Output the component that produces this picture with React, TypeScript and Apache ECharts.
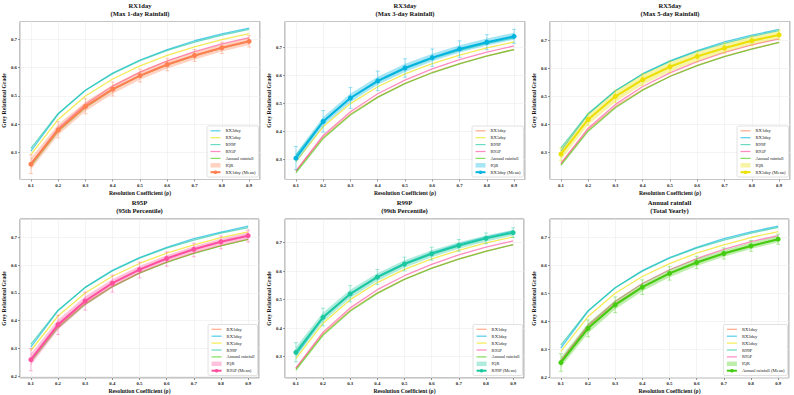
import React, { useEffect, useRef } from "react";
import * as echarts from "echarts";

// ---------------- data ----------------
const X = [0.1, 0.2, 0.3, 0.4, 0.5, 0.6, 0.7, 0.8, 0.9];

const RX1DAY_MEAN = [0.259, 0.380, 0.463, 0.524, 0.572, 0.611, 0.643, 0.670, 0.693];
const RX1DAY_Q1 = [0.240, 0.362, 0.446, 0.508, 0.557, 0.597, 0.629, 0.657, 0.680];
const RX1DAY_Q3 = [0.281, 0.399, 0.480, 0.540, 0.587, 0.625, 0.656, 0.683, 0.706];
const RX1DAY_LO = [0.226, 0.352, 0.437, 0.500, 0.549, 0.589, 0.622, 0.650, 0.673];
const RX1DAY_HI = [0.292, 0.409, 0.490, 0.549, 0.595, 0.633, 0.664, 0.690, 0.713];

const RX3DAY_MEAN = [0.305, 0.436, 0.520, 0.581, 0.627, 0.664, 0.695, 0.719, 0.740];
const RX3DAY_Q1 = [0.289, 0.421, 0.505, 0.567, 0.613, 0.651, 0.682, 0.707, 0.728];
const RX3DAY_Q3 = [0.322, 0.452, 0.536, 0.596, 0.642, 0.678, 0.708, 0.732, 0.753];
const RX3DAY_LO = [0.265, 0.398, 0.483, 0.546, 0.594, 0.633, 0.665, 0.692, 0.715];
const RX3DAY_HI = [0.347, 0.475, 0.557, 0.616, 0.660, 0.695, 0.724, 0.746, 0.765];

const RX5DAY_MEAN = [0.293, 0.417, 0.500, 0.560, 0.606, 0.643, 0.673, 0.699, 0.720];
const RX5DAY_Q1 = [0.272, 0.398, 0.480, 0.541, 0.588, 0.626, 0.657, 0.684, 0.706];
const RX5DAY_Q3 = [0.313, 0.436, 0.519, 0.578, 0.623, 0.659, 0.688, 0.713, 0.734];
const RX5DAY_LO = [0.270, 0.395, 0.478, 0.539, 0.585, 0.623, 0.654, 0.681, 0.703];
const RX5DAY_HI = [0.316, 0.439, 0.522, 0.581, 0.626, 0.662, 0.691, 0.716, 0.737];

const R95P_MEAN = [0.260, 0.386, 0.471, 0.535, 0.584, 0.624, 0.657, 0.684, 0.706];
const R95P_Q1 = [0.240, 0.368, 0.455, 0.519, 0.569, 0.610, 0.643, 0.671, 0.694];
const R95P_Q3 = [0.281, 0.404, 0.487, 0.549, 0.597, 0.636, 0.668, 0.695, 0.717];
const R95P_LO = [0.220, 0.350, 0.438, 0.503, 0.554, 0.596, 0.630, 0.659, 0.683];
const R95P_HI = [0.300, 0.420, 0.503, 0.564, 0.611, 0.648, 0.679, 0.705, 0.726];

const R99P_MEAN = [0.315, 0.438, 0.520, 0.579, 0.625, 0.661, 0.690, 0.715, 0.735];
const R99P_Q1 = [0.298, 0.422, 0.505, 0.565, 0.612, 0.649, 0.679, 0.704, 0.725];
const R99P_Q3 = [0.333, 0.455, 0.535, 0.593, 0.638, 0.673, 0.701, 0.725, 0.745];
const R99P_LO = [0.282, 0.408, 0.492, 0.553, 0.601, 0.639, 0.670, 0.696, 0.718];
const R99P_HI = [0.349, 0.470, 0.549, 0.606, 0.649, 0.684, 0.711, 0.734, 0.752];

const ANNUAL_MEAN = [0.253, 0.375, 0.459, 0.522, 0.571, 0.610, 0.642, 0.669, 0.693];
const ANNUAL_Q1 = [0.236, 0.358, 0.443, 0.507, 0.557, 0.597, 0.630, 0.658, 0.682];
const ANNUAL_Q3 = [0.272, 0.393, 0.475, 0.537, 0.585, 0.623, 0.654, 0.681, 0.704];
const ANNUAL_LO = [0.222, 0.345, 0.431, 0.496, 0.547, 0.588, 0.622, 0.650, 0.675];
const ANNUAL_HI = [0.285, 0.405, 0.487, 0.548, 0.595, 0.632, 0.662, 0.688, 0.711];

const INDICES = ["RX1day", "RX3day", "RX5day", "R95P", "R99P", "Annual rainfall"];
const SUBTITLES = [
  "(Max 1-day Rainfall)",
  "(Max 3-day Rainfall)",
  "(Max 5-day Rainfall)",
  "(95th Percentile)",
  "(99th Percentile)",
  "(Total Yearly)",
];
const OTHERS_ORDER = [
  ["RX3day", "RX5day", "R99P", "R95P", "Annual rainfall"],
  ["RX1day", "RX5day", "R99P", "R95P", "Annual rainfall"],
  ["RX1day", "RX3day", "R99P", "R95P", "Annual rainfall"],
  ["RX1day", "RX3day", "RX5day", "R99P", "Annual rainfall"],
  ["RX1day", "RX3day", "RX5day", "R95P", "Annual rainfall"],
  ["RX1day", "RX3day", "RX5day", "R99P", "R95P"],
];
const Y_MIN = [0.205, 0.229, 0.202, 0.194, 0.225, 0.198];
const Y_MAX = [0.763, 0.793, 0.768, 0.766, 0.783, 0.765];

const STATS: Record<string, { mean: number[]; q1: number[]; q3: number[]; lo: number[]; hi: number[] }> = {
  RX1day: { mean: RX1DAY_MEAN, q1: RX1DAY_Q1, q3: RX1DAY_Q3, lo: RX1DAY_LO, hi: RX1DAY_HI },
  RX3day: { mean: RX3DAY_MEAN, q1: RX3DAY_Q1, q3: RX3DAY_Q3, lo: RX3DAY_LO, hi: RX3DAY_HI },
  RX5day: { mean: RX5DAY_MEAN, q1: RX5DAY_Q1, q3: RX5DAY_Q3, lo: RX5DAY_LO, hi: RX5DAY_HI },
  R95P: { mean: R95P_MEAN, q1: R95P_Q1, q3: R95P_Q3, lo: R95P_LO, hi: R95P_HI },
  R99P: { mean: R99P_MEAN, q1: R99P_Q1, q3: R99P_Q3, lo: R99P_LO, hi: R99P_HI },
  "Annual rainfall": { mean: ANNUAL_MEAN, q1: ANNUAL_Q1, q3: ANNUAL_Q3, lo: ANNUAL_LO, hi: ANNUAL_HI },
};

// ---------------- styles ----------------
const COLORS: Record<string, string> = {
  RX1day: "#FF7F50",
  RX3day: "#00B4E0",
  RX5day: "#ECE000",
  R95P: "#FF4F9F",
  R99P: "#1CC8A0",
  "Annual rainfall": "#44CC11",
};

const GRIDS = [
  { left: 20, top: 21.5, width: 240, height: 158 },
  { left: 285, top: 21.5, width: 240, height: 158 },
  { left: 550, top: 21.5, width: 240, height: 158 },
  { left: 20, top: 219, width: 239, height: 159 },
  { left: 285, top: 219, width: 239, height: 159 },
  { left: 550, top: 219, width: 239, height: 159 },
];
const TITLE_TOP = [1, 1, 1, 198, 198, 198];
const LINE_ICON = "path://M0,0M20,9M0,3.25L20,3.25L20,5.75L0,5.75Z";

const FONT = "Liberation Serif";
const W = 794;
const H = 395;

function rgba(hex: string, a: number) {
  const n = parseInt(hex.slice(1), 16);
  return `rgba(${(n >> 16) & 255},${(n >> 8) & 255},${n & 255},${a})`;
}

const tickFmt = (v: number) => (Math.abs(v * 10 - Math.round(v * 10)) < 1e-6 ? v.toFixed(1) : "");

function buildOption() {
  const grid: any[] = [];
  const xAxis: any[] = [];
  const yAxis: any[] = [];
  const title: any[] = [];
  const legend: any[] = [];
  const series: any[] = [];

  INDICES.forEach((key, i) => {
    const g = GRIDS[i];
    const color = COLORS[key];
    const st = STATS[key];
    grid.push({
      left: g.left,
      top: g.top,
      width: g.width,
      height: g.height,
      show: true,
      borderColor: "#8a8a8a",
      borderWidth: 1,
      backgroundColor: "#fff",
      containLabel: false,
    });
    const axisLabel = {
      fontFamily: FONT,
      fontWeight: "bold",
      fontSize: 4.8,
      color: "#222",
      margin: 3,
      showMinLabel: false,
      showMaxLabel: false,
      formatter: tickFmt,
    };
    xAxis.push({
      type: "value",
      gridIndex: i,
      min: 0.06,
      max: 0.94,
      splitNumber: 8,
      name: "Resolution Coefficient (ρ)",
      nameLocation: "middle",
      nameGap: 10,
      nameTextStyle: { fontFamily: FONT, fontWeight: "bold", fontSize: 5.7, color: "#111" },
      axisLine: { show: false },
      axisTick: { show: true, length: 2, lineStyle: { color: "#555", width: 0.6 } },
      axisLabel,
      splitLine: { show: true, lineStyle: { color: "#ececec", width: 0.6 } },
    });
    yAxis.push({
      type: "value",
      gridIndex: i,
      min: Y_MIN[i],
      max: Y_MAX[i],
      splitNumber: 5,
      name: "Grey Relational Grade",
      nameLocation: "middle",
      nameGap: 12,
      nameTextStyle: { fontFamily: FONT, fontWeight: "bold", fontSize: 5.6, color: "#111" },
      axisLine: { show: false },
      axisTick: { show: true, length: 2, lineStyle: { color: "#555", width: 0.6 } },
      axisLabel,
      splitLine: { show: true, lineStyle: { color: "#ececec", width: 0.6 } },
    });
    title.push({
      text: `${key}\n${SUBTITLES[i]}`,
      left: g.left + g.width / 2,
      top: TITLE_TOP[i],
      textAlign: "center",
      padding: 0,
      textStyle: {
        fontFamily: FONT,
        fontWeight: "bold",
        fontSize: 6.6,
        lineHeight: 8.3,
        color: "#111",
      },
    });

    const others = OTHERS_ORDER[i];
    // comparison lines
    others.forEach((o) => {
      series.push({
        name: `${o}#${i}`,
        type: "line",
        xAxisIndex: i,
        yAxisIndex: i,
        data: X.map((x, k) => [x, STATS[o].mean[k]]),
        symbol: "none",
        showSymbol: false,
        color: rgba(COLORS[o], 0.65),
        lineStyle: { color: rgba(COLORS[o], 0.65), width: 1.3 },
        z: 2,
        silent: true,
      });
    });
    // IQR band
    series.push({
      name: `IQR#${i}`,
      type: "custom",
      xAxisIndex: i,
      yAxisIndex: i,
      data: X.map((x, k) => [x, st.q1[k], st.q3[k]]),
      encode: { x: 0, y: [1, 2] },
      itemStyle: { color: rgba(color, 0.35) },
      z: 3,
      silent: true,
      renderItem: (params: any, api: any) => {
        if (params.dataIndex !== 0) return null;
        const pts: number[][] = [];
        for (let k = 0; k < X.length; k++) pts.push(api.coord([X[k], st.q1[k]]));
        for (let k = X.length - 1; k >= 0; k--) pts.push(api.coord([X[k], st.q3[k]]));
        return {
          type: "polygon",
          shape: { points: pts },
          style: { fill: rgba(color, 0.35), stroke: "none" },
        };
      },
    });
    // error bars
    series.push({
      name: `_err#${i}`,
      type: "custom",
      xAxisIndex: i,
      yAxisIndex: i,
      data: X.map((x, k) => [x, st.lo[k], st.hi[k]]),
      encode: { x: 0, y: [1, 2] },
      z: 4,
      silent: true,
      renderItem: (params: any, api: any) => {
        const x = api.value(0);
        const p1 = api.coord([x, api.value(1)]);
        const p2 = api.coord([x, api.value(2)]);
        const cw = 2;
        const style = { stroke: rgba(color, 0.5), lineWidth: 0.8 };
        return {
          type: "group",
          children: [
            { type: "line", shape: { x1: p1[0], y1: p1[1], x2: p2[0], y2: p2[1] }, style },
            { type: "line", shape: { x1: p1[0] - cw, y1: p1[1], x2: p1[0] + cw, y2: p1[1] }, style },
            { type: "line", shape: { x1: p2[0] - cw, y1: p2[1], x2: p2[0] + cw, y2: p2[1] }, style },
          ],
        };
      },
    });
    // mean
    series.push({
      name: `${key} (Mean)#${i}`,
      type: "line",
      xAxisIndex: i,
      yAxisIndex: i,
      data: X.map((x, k) => [x, st.mean[k]]),
      symbol: "circle",
      symbolSize: 5,
      color: color,
      itemStyle: { color: color },
      lineStyle: { color: color, width: 2 },
      z: 5,
      silent: true,
    });

    legend.push({
      orient: "vertical",
      right: W - (g.left + g.width) + 1.5,
      bottom: H - (g.top + g.height) + 2.5,
      itemWidth: 10,
      itemHeight: 4.5,
      itemGap: 1.9,
      padding: [2.3, 3, 2.3, 2.5],
      backgroundColor: "rgba(255,255,255,0.85)",
      borderColor: "#cfcfcf",
      borderWidth: 0.6,
      borderRadius: 1.5,
      selectedMode: false,
      textStyle: { fontFamily: FONT, fontSize: 4.6, color: "#222" },
      formatter: (name: string) => name.split("#")[0],
      data: [
        ...others.map((o) => ({
          name: `${o}#${i}`,
          icon: LINE_ICON,
          itemStyle: { color: rgba(COLORS[o], 0.65) },
        })),
        { name: `IQR#${i}`, icon: "rect", itemStyle: { color: rgba(color, 0.35) } },
        { name: `${key} (Mean)#${i}` },
      ],
    });
  });

  return {
    animation: false,
    backgroundColor: "#ffffff",
    title,
    grid,
    xAxis,
    yAxis,
    legend,
    series,
  };
}

export default function App() {
  const ref = useRef<HTMLDivElement>(null);
  useEffect(() => {
    if (!ref.current) return;
    const chart = echarts.init(ref.current, undefined, { renderer: "svg" });
    chart.setOption(buildOption() as any);
    return () => chart.dispose();
  }, []);
  return (
    <div
      ref={ref}
      style={{ position: "fixed", left: 0, top: 0, width: W, height: H, background: "#fff" }}
    />
  );
}
